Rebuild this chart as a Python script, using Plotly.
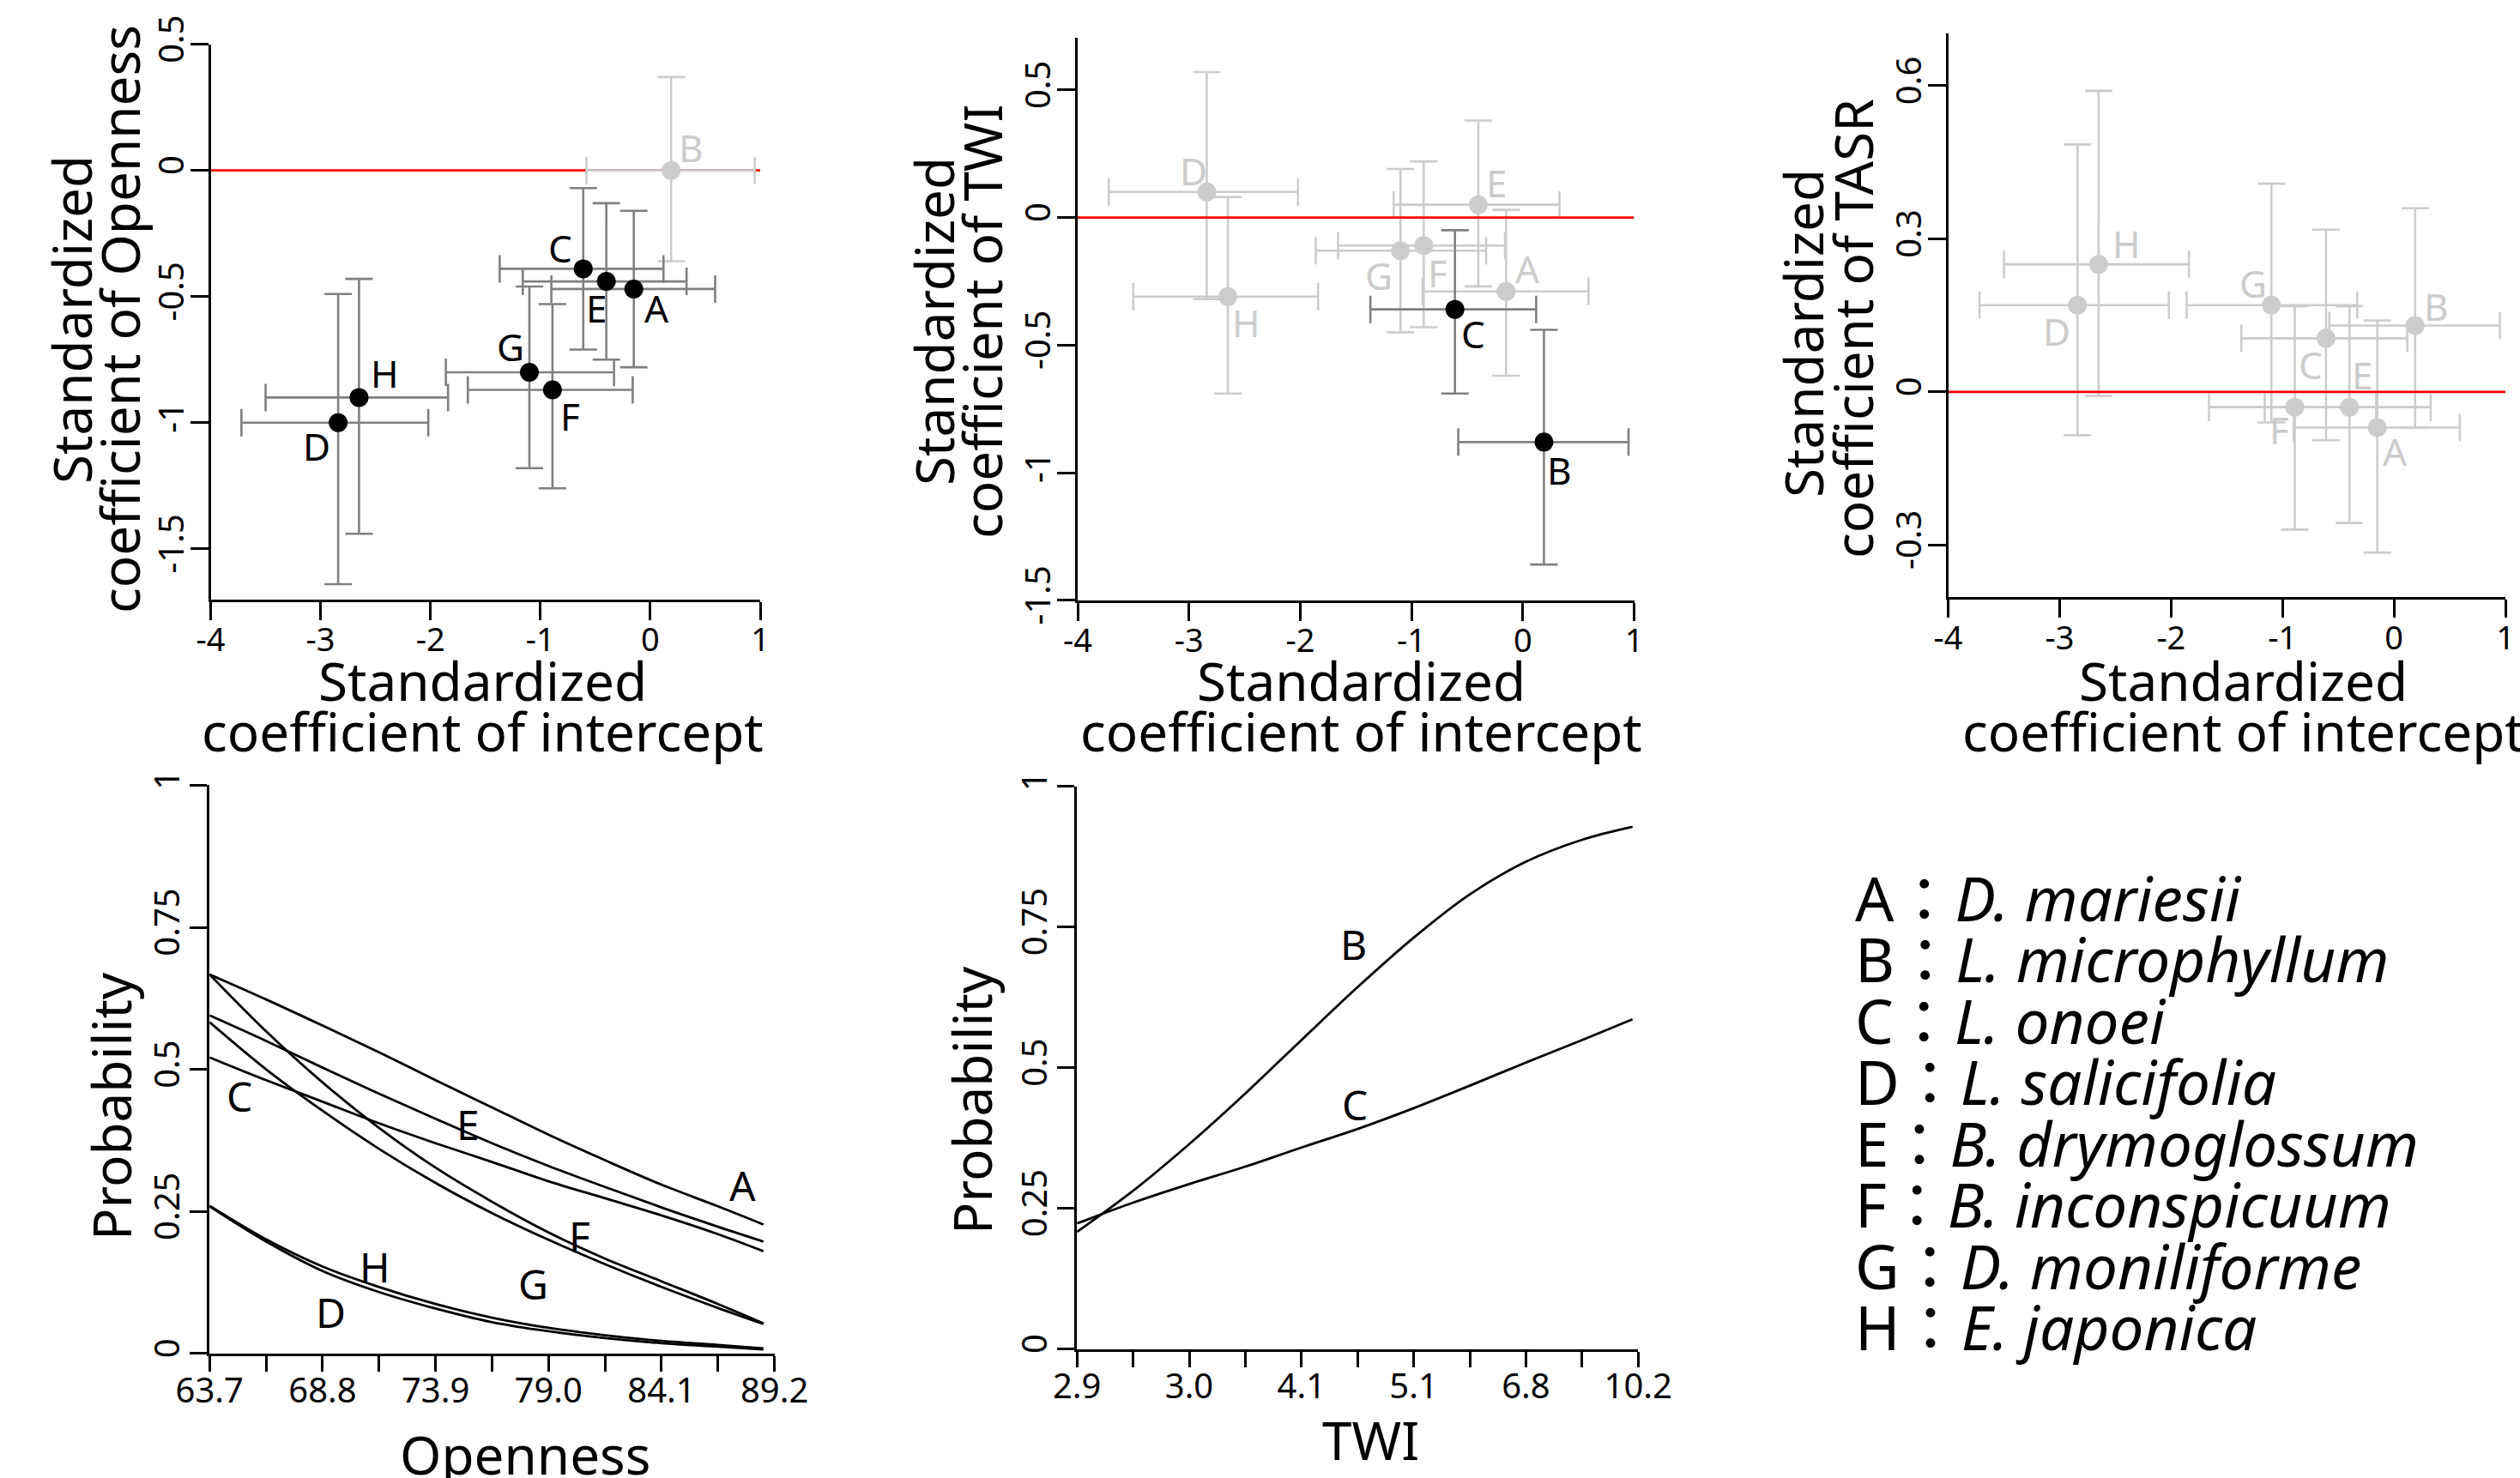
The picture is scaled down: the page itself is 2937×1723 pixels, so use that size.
import plotly.graph_objects as go

W, H = 2937, 1723
FONT = "Noto Sans, Noto Sans CJK JP, sans-serif"
BLACK = "#000000"
BAR_DARK = "#808080"
LIGHT = "#cccccc"
RED = "#ff0000"

# ---- data ---------------------------------------------------------------
species = ["A", "B", "C", "D", "E", "F", "G", "H"]
species_names = ["D. mariesii", "L. microphyllum", "L. onoei", "L. salicifolia",
                 "B. drymoglossum", "B. inconspicuum", "D. moniliforme", "E. japonica"]

# standardized intercept (shared by the three upper panels)
int_est = [-0.15, 0.19, -0.61, -2.84, -0.40, -0.89, -1.10, -2.65]
int_lo = [-0.90, -0.58, -1.37, -3.72, -1.16, -1.66, -1.86, -3.50]
int_hi = [0.59, 0.95, 0.12, -2.02, 0.33, -0.16, -0.33, -1.84]

open_est = [-0.47, 0.00, -0.39, -1.00, -0.44, -0.87, -0.80, -0.90]
open_lo = [-0.78, -0.36, -0.71, -1.64, -0.75, -1.26, -1.18, -1.44]
open_hi = [-0.16, 0.37, -0.07, -0.49, -0.13, -0.53, -0.46, -0.43]
open_sig = [True, False, True, True, True, True, True, True]

twi_est = [-0.29, -0.88, -0.36, 0.10, 0.05, -0.11, -0.13, -0.31]
twi_lo = [-0.62, -1.36, -0.69, -0.32, -0.27, -0.43, -0.45, -0.69]
twi_hi = [0.03, -0.44, -0.05, 0.57, 0.38, 0.22, 0.19, 0.08]
twi_sig = [False, True, True, False, False, False, False, False]

tasr_est = [-0.07, 0.13, 0.105, 0.17, -0.03, -0.03, 0.17, 0.25]
tasr_lo = [-0.315, -0.07, -0.095, -0.085, -0.257, -0.27, -0.06, -0.008]
tasr_hi = [0.14, 0.36, 0.318, 0.485, 0.168, 0.168, 0.408, 0.59]
tasr_sig = [False] * 8

# predicted probability along openness
openness = [63.7, 66.25, 68.8, 71.35, 73.9, 76.45, 79.0, 81.55, 84.1, 86.65, 88.7]
prob_open = {
    "A": [0.667, 0.623, 0.577, 0.530, 0.481, 0.433, 0.385, 0.340, 0.297, 0.259, 0.227],
    "E": [0.595, 0.550, 0.503, 0.457, 0.413, 0.370, 0.330, 0.293, 0.257, 0.223, 0.197],
    "C": [0.521, 0.481, 0.443, 0.405, 0.370, 0.337, 0.303, 0.273, 0.243, 0.210, 0.180],
    "F": [0.667, 0.567, 0.477, 0.397, 0.327, 0.267, 0.213, 0.167, 0.127, 0.087, 0.053],
    "G": [0.583, 0.500, 0.427, 0.360, 0.300, 0.247, 0.200, 0.157, 0.117, 0.080, 0.052],
    "H": [0.260, 0.201, 0.153, 0.117, 0.087, 0.063, 0.045, 0.032, 0.022, 0.015, 0.009],
    "D": [0.259, 0.197, 0.145, 0.108, 0.079, 0.055, 0.039, 0.027, 0.018, 0.012, 0.007],
}
open_ticks = [63.7, 66.25, 68.8, 71.35, 73.9, 76.45, 79.0, 81.55, 84.1, 86.65, 89.2]
open_ticktext = ["63.7", "", "68.8", "", "73.9", "", "79.0", "", "84.1", "", "89.2"]

# predicted probability along TWI (plotted on an index scale)
twi_pos = [0, 1, 2, 3, 4, 5, 6, 7, 8, 9, 9.9]
prob_twi = {
    "B": [0.208, 0.281, 0.364, 0.454, 0.549, 0.643, 0.731, 0.808, 0.866, 0.905, 0.928],
    "C": [0.223, 0.260, 0.293, 0.324, 0.358, 0.391, 0.428, 0.468, 0.509, 0.549, 0.586],
}
twi_ticks = [0, 1, 2, 3, 4, 5, 6, 7, 8, 9, 10]
twi_ticktext = ["2.9", "", "3.0", "", "4.1", "", "5.1", "", "6.8", "", "10.2"]

coef_xticks = [-4, -3, -2, -1, 0, 1]
coef_xticktext = ["-4", "-3", "-2", "-1", "0", "1"]
prob_yticks = [0, 0.25, 0.5, 0.75, 1]
prob_yticktext = ["0", "0.25", "0.5", "0.75", "1"]

# ---- layout helpers -----------------------------------------------------
def dom_x(a, b):
    return [a / W, b / W]


def dom_y(top, bottom):
    return [1 - bottom / H, 1 - top / H]


def px(xp, yp):
    return xp / W, 1 - yp / H


def axis(domain, rng, tickvals, ticktext, anchor, ticklen=21, y=False, size=40, standoff=0):
    d = dict(domain=domain, range=rng, tickvals=tickvals, ticktext=ticktext,
             anchor=anchor, showline=True, linecolor="black", linewidth=3,
             ticks="outside", ticklen=ticklen, tickwidth=3, tickcolor="black",
             showgrid=False, zeroline=False, fixedrange=True, automargin=False,
             ticklabelstandoff=standoff,
             tickfont=dict(family=FONT, size=size, color="black"))
    if y:
        d["tickangle"] = -90
    return d


fig = go.Figure()

# pixel offsets of the letter labels from their points
label_shift = {
    1: {"A": (27, -22), "B": (23, 27), "C": (-27, 24), "D": (-25, -27),
        "E": (-12, -31), "F": (21, -30), "G": (-22, 30), "H": (30, 28)},
    2: {"A": (25, 27), "B": (18, -33), "C": (21, -28), "D": (-15, 25),
        "E": (21, 26), "F": (16, -32), "G": (-25, -29), "H": (21, -30)},
    3: {"A": (21, -28), "B": (25, 22), "C": (-18, -31), "D": (-24, -30),
        "E": (15, 38), "F": (-18, -26), "G": (-21, 26), "H": (33, 24)},
}

coef_panels = [
    (1, open_est, open_lo, open_hi, open_sig, True),
    (2, twi_est, twi_lo, twi_hi, twi_sig, False),
    (3, tasr_est, tasr_lo, tasr_hi, tasr_sig, False),
]

annotations = []


def add_points(est, lo, hi, keep, colour, barcolour, xa, ya):
    sel = [i for i in range(len(species)) if keep[i]]
    if not sel:
        return
    fig.add_trace(go.Scatter(
        x=[int_est[i] for i in sel], y=[est[i] for i in sel],
        mode="markers", xaxis=xa, yaxis=ya, showlegend=False, hoverinfo="skip",
        marker=dict(color=colour, size=22, line=dict(width=0)),
        error_x=dict(type="data", symmetric=False,
                     array=[int_hi[i] - int_est[i] for i in sel],
                     arrayminus=[int_est[i] - int_lo[i] for i in sel],
                     color=barcolour, thickness=2.6, width=16),
        error_y=dict(type="data", symmetric=False,
                     array=[hi[i] - est[i] for i in sel],
                     arrayminus=[est[i] - lo[i] for i in sel],
                     color=barcolour, thickness=2.6, width=16),
    ))


for idx, est, lo, hi, sig, zero_under in coef_panels:
    xa = "x" if idx == 1 else f"x{idx}"
    ya = "y" if idx == 1 else f"y{idx}"
    zero = go.Scatter(x=[-4, 1], y=[0, 0], mode="lines", xaxis=xa, yaxis=ya,
                      line=dict(color=RED, width=2.8), showlegend=False, hoverinfo="skip")
    if zero_under:
        fig.add_trace(zero)
    add_points(est, lo, hi, [not s for s in sig], LIGHT, LIGHT, xa, ya)
    if not zero_under:
        fig.add_trace(zero)
    add_points(est, lo, hi, sig, BLACK, BAR_DARK, xa, ya)
    for i, sp in enumerate(species):
        dx, dy = label_shift[idx][sp]
        annotations.append(dict(
            x=int_est[i], y=est[i], xref=xa, yref=ya, text=sp, showarrow=False,
            xshift=dx, yshift=dy, font=dict(family=FONT, size=44,
                                            color=BLACK if sig[i] else LIGHT)))

# probability curves
for sp, vals in prob_open.items():
    fig.add_trace(go.Scatter(x=openness, y=vals, mode="lines", xaxis="x4", yaxis="y4",
                             line=dict(color=BLACK, width=2.8, shape="spline"),
                             showlegend=False, hoverinfo="skip"))
for sp, vals in prob_twi.items():
    fig.add_trace(go.Scatter(x=twi_pos, y=vals, mode="lines", xaxis="x5", yaxis="y5",
                             line=dict(color=BLACK, width=2.8, shape="spline"),
                             showlegend=False, hoverinfo="skip"))

open_label_pos = {"C": (65.04, 0.453), "E": (75.37, 0.403), "A": (87.76, 0.297),
                  "F": (80.41, 0.208), "G": (78.31, 0.123), "H": (71.18, 0.153),
                  "D": (69.16, 0.073)}
for sp, (lx, ly) in open_label_pos.items():
    annotations.append(dict(x=lx, y=ly, xref="x4", yref="y4", text=sp, showarrow=False,
                            font=dict(family=FONT, size=48, color=BLACK)))
twi_label_pos = {"B": (4.93, 0.720), "C": (4.95, 0.435)}
for sp, (lx, ly) in twi_label_pos.items():
    annotations.append(dict(x=lx, y=ly, xref="x5", yref="y5", text=sp, showarrow=False,
                            font=dict(family=FONT, size=48, color=BLACK)))

# axis titles (each line placed separately, as in the original)
TFS = 62


def title(text, xp, yp, angle=0):
    x, y = px(xp, yp)
    annotations.append(dict(x=x, y=y, xref="paper", yref="paper", text=text,
                            showarrow=False, textangle=angle, xanchor="center",
                            yanchor="middle", font=dict(family=FONT, size=TFS, color=BLACK)))


for cx in (562, 1586, 2614):
    title("Standardized", cx, 793)
    title("coefficient of intercept", cx, 852)
title("Standardized", 83, 373, -90)
title("coefficient of Openness", 139, 372, -90)
title("Standardized", 1088, 375, -90)
title("coefficient of TWI", 1144, 375, -90)
title("Standardized", 2101, 389, -90)
title("coefficient of TASR", 2159, 383, -90)
title("Probability", 129, 1290, -90)
title("Probability", 1132, 1283, -90)
title("Openness", 612, 1695)
title("TWI", 1597, 1678)

# species key
for i, (sp, name) in enumerate(zip(species, species_names)):
    x, y = px(2160, 1046 + 71.5 * i)
    annotations.append(dict(x=x, y=y, xref="paper", yref="paper", showarrow=False,
                            xanchor="left", yanchor="middle",
                            text=f"{sp}：<i>{name}</i>",
                            font=dict(family=FONT, size=71, color=BLACK)))

fig.update_layout(
    template="none",
    width=W, height=H, margin=dict(l=0, r=0, t=0, b=0, autoexpand=False),
    paper_bgcolor="white", plot_bgcolor="white", showlegend=False,
    xaxis=axis(dom_x(245.5, 886), [-4, 1], coef_xticks, coef_xticktext, "y",
               size=38, standoff=-9),
    yaxis=axis(dom_y(51.6, 698.7), [-1.7, 0.5], [-1.5, -1, -0.5, 0, 0.5],
               ["-1.5", "-1", "-0.5", "0", "0.5"], "x", y=True, standoff=-8),
    xaxis2=axis(dom_x(1256, 1904.5), [-4, 1], coef_xticks, coef_xticktext, "y2",
                size=38, standoff=-9),
    yaxis2=axis(dom_y(43.8, 699.8), [-1.5, 0.705], [-1.5, -1, -0.5, 0, 0.5],
                ["-1.5", "-1", "-0.5", "0", "0.5"], "x2", y=True, standoff=-8),
    xaxis3=axis(dom_x(2270.6, 2920), [-4, 1], coef_xticks, coef_xticktext, "y3",
                size=38, standoff=-9),
    yaxis3=axis(dom_y(39.3, 695.9), [-0.402, 0.702], [-0.3, 0, 0.3, 0.6],
                ["-0.3", "0", "0.3", "0.6"], "x3", y=True, standoff=-8),
    xaxis4=axis(dom_x(244.3, 902.6), [63.7, 89.2], open_ticks, open_ticktext, "y4",
                ticklen=18, standoff=-12),
    yaxis4=axis(dom_y(915.4, 1577.8), [0, 1], prob_yticks, prob_yticktext, "x4",
                ticklen=20, y=True, standoff=-4),
    xaxis5=axis(dom_x(1255.2, 1909.2), [0, 10], twi_ticks, twi_ticktext, "y5",
                ticklen=18, standoff=-12),
    yaxis5=axis(dom_y(916.7, 1572.5), [0, 1], prob_yticks, prob_yticktext, "x5",
                ticklen=20, y=True, standoff=-4),
    annotations=annotations,
)

fig.write_html("out.html", config={"displayModeBar": False},
               post_script="document.body.style.margin='0';")
